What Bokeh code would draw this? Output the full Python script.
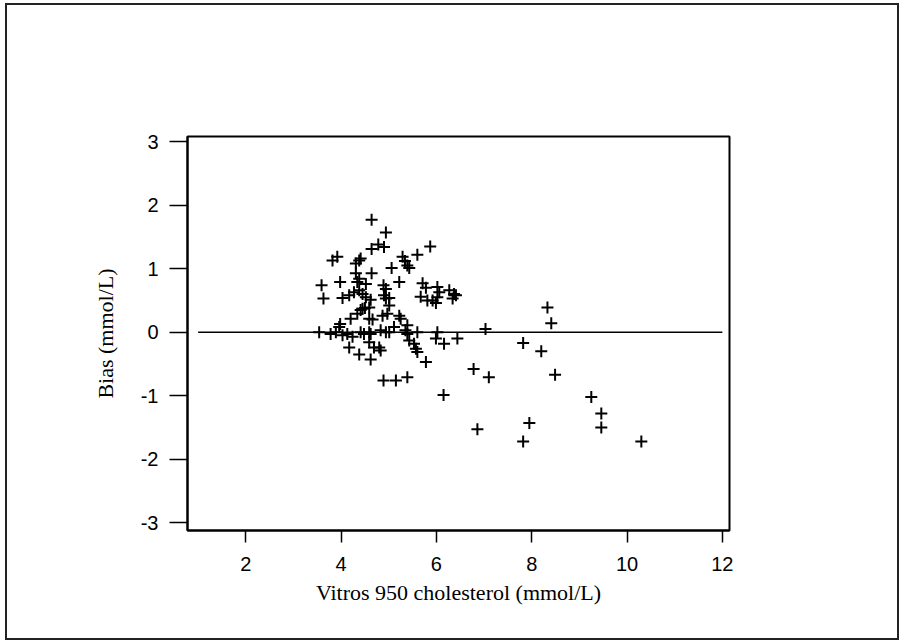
from bokeh.plotting import figure
from bokeh.models import Range1d, FixedTicker
from bokeh.layouts import column
from bokeh.embed import file_html
from bokeh.resources import INLINE

# Vitros 950 cholesterol (mmol/L)
cholesterol = [
    4.64, 4.94, 4.78, 4.90, 4.64, 5.87, 5.60, 5.29, 5.34, 5.39, 5.43, 3.82, 3.92, 4.38, 4.41, 4.31, 5.06, 4.64, 4.31,
    3.59, 3.98, 4.34, 4.38, 4.52, 4.89, 4.94, 5.22,
    3.63, 4.03, 4.17, 4.27, 4.38, 4.45, 4.52, 4.90, 4.94, 5.01, 4.62, 4.45, 4.59, 5.01,
    5.71, 5.78, 5.67, 5.81, 5.92, 6.02, 6.06, 6.02, 6.27, 6.37, 6.41, 6.34, 5.99,
    4.41, 4.50, 4.34, 4.20, 4.59, 4.66, 4.87, 4.97, 3.98, 5.22, 5.25, 5.39, 5.11,
    3.54, 3.78, 3.89, 3.96, 4.03, 4.13, 4.24, 4.41, 4.48, 4.59, 4.62, 4.83, 4.94, 5.01, 5.35, 5.39, 5.60,
    6.02, 5.99, 6.16, 6.44, 7.03,
    4.17, 4.38, 4.62, 4.59, 4.69, 4.80, 4.83, 5.43, 5.53, 5.57, 5.60, 5.78, 4.89, 5.15, 5.39, 6.78, 6.15,
    8.33, 8.41, 7.82, 8.20, 7.10, 8.49, 9.25, 9.46, 9.46, 6.86, 7.95, 7.82, 10.30,
]
# Bias (mmol/L)
bias = [
    1.77, 1.57, 1.38, 1.34, 1.31, 1.35, 1.22, 1.19, 1.12, 1.05, 1.01, 1.13, 1.19, 1.13, 1.16, 1.08, 1.01, 0.93, 0.93,
    0.74, 0.79, 0.79, 0.84, 0.76, 0.74, 0.68, 0.79,
    0.53, 0.54, 0.58, 0.63, 0.66, 0.60, 0.55, 0.58, 0.53, 0.54, 0.51, 0.37, 0.39, 0.42,
    0.77, 0.70, 0.56, 0.50, 0.50, 0.71, 0.63, 0.55, 0.66, 0.60, 0.58, 0.53, 0.46,
    0.35, 0.38, 0.29, 0.21, 0.21, 0.20, 0.26, 0.29, 0.13, 0.26, 0.21, 0.11, 0.08,
    0.00, -0.03, 0.00, 0.08, -0.05, -0.03, -0.07, 0.00, -0.03, 0.00, -0.03, 0.03, 0.00, 0.00, 0.03, -0.03, 0.00,
    0.00, -0.10, -0.18, -0.10, 0.05,
    -0.24, -0.35, -0.43, -0.16, -0.24, -0.24, -0.29, -0.13, -0.18, -0.26, -0.31, -0.47, -0.76, -0.76, -0.71, -0.58, -0.99,
    0.39, 0.14, -0.17, -0.30, -0.71, -0.67, -1.02, -1.28, -1.50, -1.53, -1.43, -1.72, -1.72,
]

zero_x = [1, 12]
zero_y = [0, 0]
x_ticks = [2, 4, 6, 8, 10, 12]
y_ticks = [-3, -2, -1, 0, 1, 2, 3]

p = figure(
    width=890, height=633, output_backend="svg", toolbar_location=None,
    x_range=Range1d(0.777, 12.15), y_range=Range1d(-3.123, 3.082),
    min_border_left=180, min_border_right=168, min_border_top=131, min_border_bottom=108,
)
p.background_fill_color = "white"
p.border_fill_color = "white"
p.outline_line_color = "black"
p.outline_line_width = 2
p.xgrid.visible = False
p.ygrid.visible = False

p.line(zero_x, zero_y, line_color="black", line_width=1.5)
p.scatter(cholesterol, bias, marker="cross", size=12, line_width=2, line_color="black")

for ax in (p.xaxis[0], p.yaxis[0]):
    ax.axis_line_color = "black"
    ax.axis_line_width = 2
    ax.major_tick_line_color = "black"
    ax.major_tick_line_width = 1.5
    ax.major_tick_in = 0
    ax.minor_tick_line_color = None
    ax.major_label_text_font = "Liberation Sans"
    ax.major_label_text_font_size = "20px"
    ax.major_label_text_color = "black"
    ax.axis_label_text_font = "Liberation Serif"
    ax.axis_label_text_font_size = "22px"
    ax.axis_label_text_font_style = "normal"
    ax.axis_label_text_color = "black"

p.xaxis.ticker = FixedTicker(ticks=x_ticks)
p.yaxis.ticker = FixedTicker(ticks=y_ticks)
p.yaxis.major_label_overrides = {t: str(t) for t in y_ticks}
p.xaxis.major_label_overrides = {t: str(t) for t in x_ticks}
p.xaxis.major_tick_out = 12
p.yaxis.major_tick_out = 18
p.xaxis.major_label_standoff = 14
p.yaxis.major_label_standoff = 11
p.xaxis.axis_label = "Vitros 950 cholesterol (mmol/L)"
p.yaxis.axis_label = "Bias (mmol/L)"
p.xaxis.axis_label_standoff = 6
p.yaxis.axis_label_standoff = 20

layout = column(p, styles={"border": "2px solid #222222", "margin-left": "5px", "margin-top": "3px"})

open("out.html", "w").write(file_html(layout, INLINE))
